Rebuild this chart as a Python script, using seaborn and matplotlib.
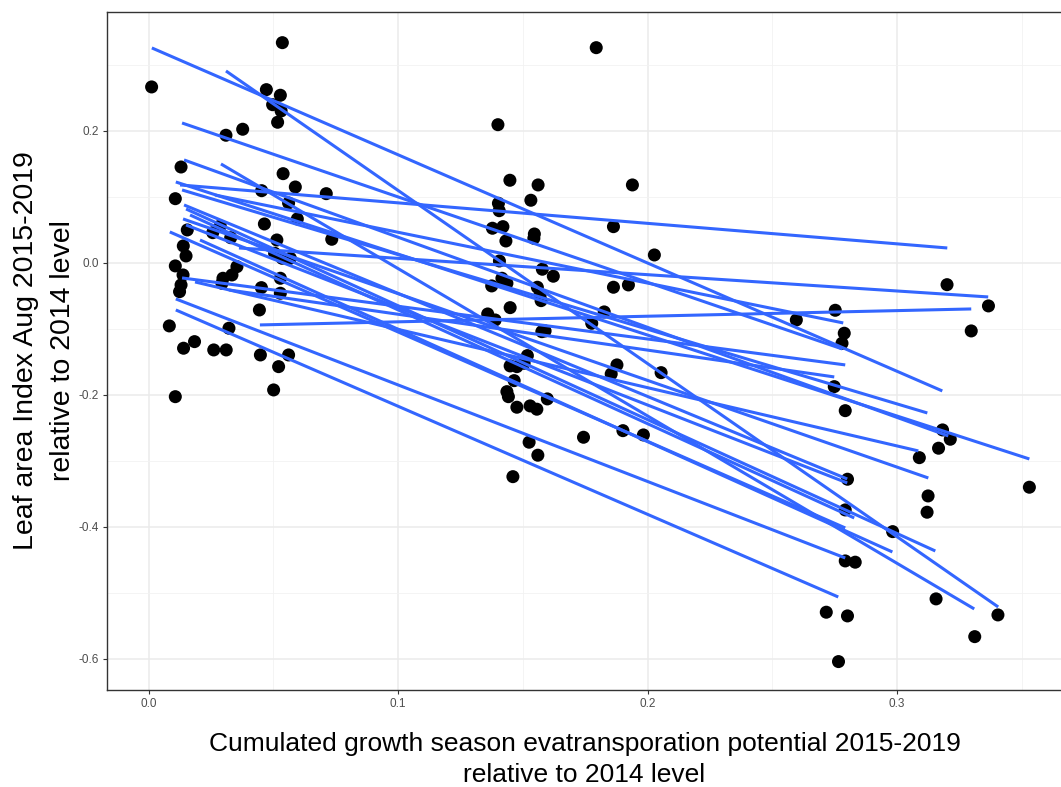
import numpy as np
import pandas as pd
import matplotlib
matplotlib.use("Agg")
import matplotlib.pyplot as plt
from matplotlib.ticker import FixedLocator
import seaborn as sns

# Site observations: cumulated ET potential change vs. LAI change
et_potential = [
    0.0012, 0.0536, 0.0472, 0.0528, 0.0497, 0.0531, 0.0517, 0.0310, 0.0377, 0.0130,
    0.0107, 0.0539, 0.0588, 0.0453, 0.0712, 0.0561, 0.0596, 0.0464, 0.0287, 0.0257,
    0.0155, 0.0329, 0.0514, 0.0734, 0.0139, 0.0150, 0.0505, 0.0535, 0.0568, 0.0107,
    0.0354, 0.0138, 0.0334, 0.0298, 0.0294, 0.0528, 0.0130, 0.0452, 0.0124, 0.0528,
    0.0444, 0.0083, 0.0322, 0.0140, 0.0184, 0.0261, 0.0311, 0.0448, 0.0561, 0.0521,
    0.0107, 0.0501,
    0.1794, 0.1400, 0.1448, 0.1561, 0.1939, 0.1532, 0.1402, 0.1405, 0.1863, 0.1378,
    0.1420, 0.1546, 0.1544, 0.1432, 0.2027, 0.1406, 0.1578, 0.1622, 0.1416, 0.1436,
    0.1375, 0.1863, 0.1923, 0.1558, 0.1569, 0.1573, 0.1449, 0.1359, 0.1389, 0.1776,
    0.1826, 0.1576, 0.1589, 0.1518, 0.1505, 0.1449, 0.1476, 0.1877, 0.1854, 0.2054,
    0.1465, 0.1436, 0.1442, 0.1598, 0.1476, 0.1529, 0.1556, 0.1901, 0.1983, 0.1743,
    0.1525, 0.1560, 0.1460,
    0.3200, 0.3366, 0.3297, 0.2752, 0.2596, 0.2788, 0.2779, 0.2748, 0.2792, 0.3182,
    0.3213, 0.3166, 0.3089, 0.3530, 0.2801, 0.3124, 0.3120, 0.2792, 0.2982, 0.2792,
    0.2832, 0.3156, 0.3404, 0.2716, 0.2801, 0.3311, 0.2765,
]
lai_change = [
    0.2667, 0.3338, 0.2626, 0.2541, 0.2398, 0.2303, 0.2132, 0.1935, 0.2026, 0.1454,
    0.0974, 0.1353, 0.1151, 0.1095, 0.1050, 0.0909, 0.0667, 0.0591, 0.0561, 0.0459,
    0.0500, 0.0383, 0.0348, 0.0359, 0.0258, 0.0106, 0.0147, 0.0071, 0.0071, -0.0045,
    -0.0056, -0.0182, -0.0182, -0.0232, -0.0308, -0.0232, -0.0333, -0.0374, -0.0435, -0.0459,
    -0.0712, -0.0954, -0.0989, -0.1292, -0.1192, -0.1318, -0.1318, -0.1394, -0.1394, -0.1571,
    -0.2026, -0.1924,
    0.3262, 0.2095, 0.1253, 0.1182, 0.1182, 0.0950, 0.0904, 0.0792, 0.0550, 0.0526,
    0.0550, 0.0439, 0.0374, 0.0333, 0.0121, 0.0030, -0.0095, -0.0201, -0.0232, -0.0308,
    -0.0348, -0.0368, -0.0333, -0.0368, -0.0485, -0.0571, -0.0677, -0.0773, -0.0864, -0.0914,
    -0.0742, -0.1041, -0.1030, -0.1404, -0.1520, -0.1560, -0.1571, -0.1545, -0.1682, -0.1662,
    -0.1783, -0.1950, -0.2026, -0.2060, -0.2186, -0.2166, -0.2216, -0.2541, -0.2606, -0.2641,
    -0.2716, -0.2913, -0.3238,
    -0.0329, -0.0651, -0.1030, -0.0717, -0.0864, -0.1065, -0.1217, -0.1874, -0.2238, -0.2530,
    -0.2671, -0.2807, -0.2950, -0.3398, -0.3277, -0.3530, -0.3777, -0.3742, -0.4071, -0.4515,
    -0.4534, -0.5090, -0.5333, -0.5292, -0.5348, -0.5662, -0.6040,
]

# Per-site linear fits: x range of each fit and fitted values at both ends
fit_x_start = [0.0013, 0.0310, 0.0134, 0.0142, 0.0290, 0.0109, 0.0126, 0.0266, 0.0150, 0.0138,
               0.0085, 0.0362, 0.0134, 0.0186, 0.0322, 0.0109, 0.0109, 0.0446, 0.0142, 0.0166,
               0.0206, 0.0134, 0.0150]
fit_x_end = [0.3181, 0.3405, 0.2780, 0.3205, 0.3309, 0.3530, 0.3201, 0.2784, 0.3153, 0.3125,
             0.2792, 0.3365, 0.2792, 0.3085, 0.2748, 0.2792, 0.2764, 0.3297, 0.2800, 0.2828,
             0.2981, 0.3121, 0.2800]
fit_y_start = [0.3258, 0.2909, 0.2121, 0.1561, 0.1500, 0.1227, 0.1182, 0.1030, 0.0818, 0.0667,
               0.0470, 0.0227, -0.0227, -0.0288, -0.0409, -0.0545, -0.0712, -0.0939, 0.0879, 0.0727,
               0.0348, 0.1106, 0.0576]
fit_y_end = [-0.1939, -0.5212, -0.1303, -0.2621, -0.5242, -0.2970, 0.0227, -0.0909, -0.4364, -0.3258,
             -0.4015, -0.0515, -0.1545, -0.2848, -0.1727, -0.4470, -0.5061, -0.0697, -0.3273, -0.3864,
             -0.4379, -0.2273, -0.3333]

x_ticks = [0.0, 0.1, 0.2, 0.3]
x_tick_labels = ["0.0", "0.1", "0.2", "0.3"]
y_ticks = [-0.6, -0.4, -0.2, 0.0, 0.2]
y_tick_labels = ["-0.6", "-0.4", "-0.2", "0.0", "0.2"]

sns.set_style("white")
plt.rcParams["font.family"] = ["Liberation Sans", "DejaVu Sans"]

fig = plt.figure(figsize=(10.61, 7.87), dpi=100)
ax = fig.add_axes([0.1008, 0.1233, 0.9002, 0.8615])

points = pd.DataFrame({"etp": et_potential, "lai": lai_change})
sns.scatterplot(data=points, x="etp", y="lai", color="black", s=88,
                edgecolor="none", linewidth=0, ax=ax, zorder=2, legend=False)

n_fits = len(fit_x_start)
fits = pd.DataFrame({
    "site": np.repeat(np.arange(n_fits), 2),
    "etp": np.column_stack([fit_x_start, fit_x_end]).ravel(),
    "lai": np.column_stack([fit_y_start, fit_y_end]).ravel(),
})
sns.lineplot(data=fits, x="etp", y="lai", units="site", estimator=None, sort=False,
             color="#3366FF", linewidth=2.2, ax=ax, zorder=3, legend=False,
             solid_capstyle="butt")

ax.set_xlim(-0.0167, 0.3661)
ax.set_ylim(-0.647, 0.3803)

ax.xaxis.set_major_locator(FixedLocator(x_ticks))
ax.set_xticklabels(x_tick_labels)
ax.yaxis.set_major_locator(FixedLocator(y_ticks))
ax.set_yticklabels(y_tick_labels)
ax.xaxis.set_minor_locator(FixedLocator([0.05, 0.15, 0.25, 0.35]))
ax.yaxis.set_minor_locator(FixedLocator([-0.5, -0.3, -0.1, 0.1, 0.3]))

ax.grid(which="major", color="#EBEBEB", linewidth=1.1, zorder=0)
ax.grid(which="minor", color="#F2F2F2", linewidth=0.6, zorder=0)
ax.set_axisbelow(True)

ax.tick_params(axis="both", which="major", length=2.8, width=0.8, color="#333333",
               labelsize=8.5, labelcolor="#4D4D4D", pad=3, direction="out",
               bottom=True, left=True)
ax.tick_params(axis="both", which="minor", length=0)

for side in ["top", "right", "bottom", "left"]:
    ax.spines[side].set_visible(True)
    ax.spines[side].set_color("#333333")
    ax.spines[side].set_linewidth(1.0)

ax.set_xlabel("Cumulated growth season evatransporation potential 2015-2019\nrelative to 2014 level",
              fontsize=19, labelpad=16, linespacing=1.35, color="black")
ax.set_ylabel("Leaf area Index Aug 2015-2019\nrelative to 2014 level",
              fontsize=20.5, labelpad=2, linespacing=1.55, color="black")

fig.savefig("out.png", dpi=100, facecolor="white")
